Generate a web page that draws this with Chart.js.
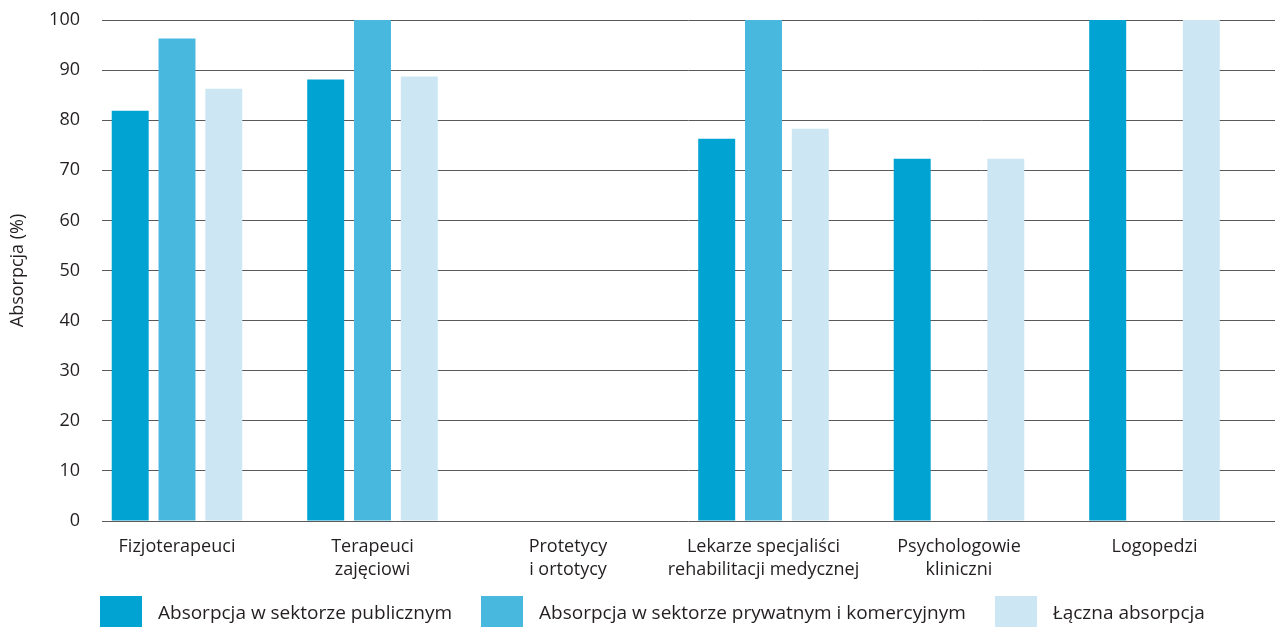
<!DOCTYPE html>
<html lang="pl">
<head>
<meta charset="utf-8">
<title>Absorpcja</title>
<script src="https://cdn.jsdelivr.net/npm/chart.js@4/dist/chart.umd.min.js"></script>
<style>
  html, body { margin: 0; padding: 0; background: #fff; }
  #wrap { position: relative; width: 1275px; height: 627px; overflow: hidden; }
  #chart { position: absolute; left: 0; top: 0; }
  #legend { position: absolute; left: 100px; top: 596px; display: flex; align-items: center;
            font-family: "Open Sans", sans-serif; font-size: 19px; color: #231f20; white-space: nowrap; }
  .item { display: flex; align-items: center; margin-right: 29px; }
  .box { width: 42px; height: 32px; margin-right: 16px; flex: none; }
</style>
</head>
<body>
<div id="wrap">
  <canvas id="chart" width="1275" height="627"></canvas>
  <div id="legend"></div>
</div>
<script>
// Kategorie (etykiety wielowierszowe)
const categories = [
  ['Fizjoterapeuci'],
  ['Terapeuci', 'zajęciowi'],
  ['Protetycy', 'i ortotycy'],
  ['Lekarze specjaliści', 'rehabilitacji medycznej'],
  ['Psychologowie', 'kliniczni'],
  ['Logopedzi']
];

// Absorpcja (%) dla poszczególnych sektorów
const publicSector  = [81.9, 88.1, null, 76.3, 72.3, 100];
const privateSector = [96.3, 100,  null, 100,  null, null];
const totalAbsorb   = [86.3, 88.7, null, 78.3, 72.3, 100];

const seriesNames = [
  'Absorpcja w sektorze publicznym',
  'Absorpcja w sektorze prywatnym i komercyjnym',
  'Łączna absorpcja'
];
const seriesColors = ['#00a3d2', '#48b8df', '#cce7f3'];

const yTicks = [0, 10, 20, 30, 40, 50, 60, 70, 80, 90, 100];

const FONT = '"Open Sans", sans-serif';
const toPoints = arr => arr.map((v, i) => ({ x: i, y: v }));

const datasets = [publicSector, privateSector, totalAbsorb].map((arr, k) => ({
  label: seriesNames[k],
  data: toPoints(arr),
  backgroundColor: seriesColors[k],
  borderWidth: 0,
  categoryPercentage: 0.718,
  barPercentage: 0.79
}));

// Zerowanie marginesów osi, aby obszar wykresu zależał tylko od layout.padding
const zeroPad = axis => {
  axis.paddingTop = 0; axis.paddingBottom = 0;
  axis.paddingLeft = 0; axis.paddingRight = 0;
};

const chart = new Chart(document.getElementById('chart'), {
  type: 'bar',
  data: { datasets },
  options: {
    responsive: false,
    animation: false,
    layout: { padding: { top: 20, left: 0, right: 0, bottom: 0 } },
    plugins: { legend: { display: false }, tooltip: { enabled: false } },
    scales: {
      x: {
        type: 'linear',
        offset: false,
        min: -0.3836,
        max: 5.6164,
        grid: { display: false },
        border: { display: false },
        afterBuildTicks: axis => { axis.ticks = categories.map((_, i) => ({ value: i })); },
        afterFit: axis => { axis.height = 106; zeroPad(axis); },
        ticks: {
          autoSkip: false,
          maxRotation: 0,
          padding: 6,
          color: '#231f20',
          font: { family: FONT, size: 18, lineHeight: 1.28 },
          callback: v => categories[v] || ''
        }
      },
      y: {
        min: 0,
        max: 100,
        afterBuildTicks: axis => { axis.ticks = yTicks.map(v => ({ value: v })); },
        afterFit: axis => { axis.width = 102; zeroPad(axis); },
        border: { display: false },
        grid: { color: '#5a5a5a', lineWidth: 1, drawTicks: false },
        ticks: {
          padding: 22,
          color: '#231f20',
          font: { family: FONT, size: 18 }
        },
        title: {
          display: true,
          text: 'Absorpcja (%)',
          color: '#231f20',
          font: { family: FONT, size: 18 },
          padding: { top: 7, bottom: 0 }
        }
      }
    }
  }
});

// Legenda pod wykresem
const legend = document.getElementById('legend');
chart.data.datasets.forEach(ds => {
  const item = document.createElement('div');
  item.className = 'item';
  const box = document.createElement('div');
  box.className = 'box';
  box.style.background = ds.backgroundColor;
  const label = document.createElement('span');
  label.textContent = ds.label;
  item.appendChild(box);
  item.appendChild(label);
  legend.appendChild(item);
});
</script>
</body>
</html>
